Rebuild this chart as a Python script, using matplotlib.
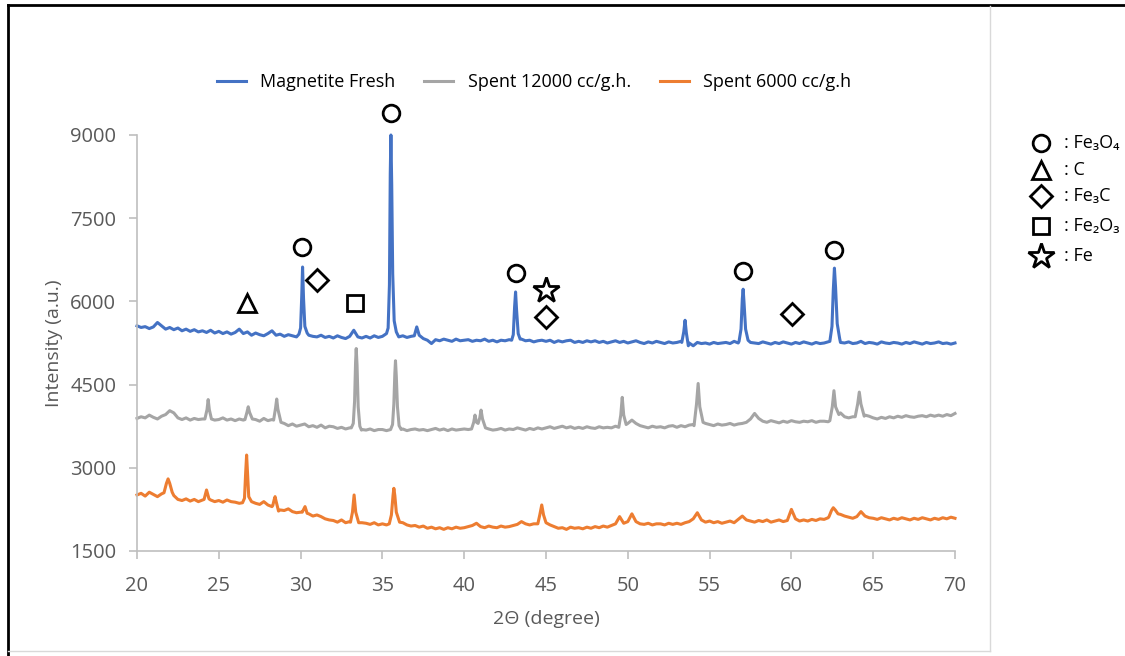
import numpy as np
import matplotlib
matplotlib.use("Agg")
import matplotlib.pyplot as plt
from matplotlib.lines import Line2D

# ---------------- data ----------------
# baseline scan on a 0.25 deg grid, 20 .. 70 deg (201 points per series)
grid_start, grid_step = 20.0, 0.25

blue_grid = [
    5560, 5530, 5545, 5510, 5540, 5620, 5560, 5500, 5530, 5490, 5520, 5470,
    5500, 5460, 5490, 5450, 5470, 5440, 5480, 5430, 5460, 5420, 5450, 5410,
    5440, 5500, 5420, 5450, 5390, 5430, 5400, 5380, 5420, 5470, 5390, 5410,
    5370, 5400, 5380, 5360, 5400, 5600, 5390, 5370, 5360, 5390, 5350, 5370,
    5340, 5380, 5350, 5330, 5370, 5480, 5360, 5340, 5370, 5340, 5380, 5350,
    5370, 5390, 5400, 5400, 5360, 5380, 5350, 5370, 5450, 5420, 5330, 5300,
    5240, 5310, 5290, 5320, 5300, 5280, 5320, 5290, 5300, 5310, 5280, 5300,
    5290, 5320, 5280, 5300, 5270, 5300, 5290, 5310, 5300, 5300, 5320, 5290,
    5300, 5270, 5290, 5300, 5280, 5300, 5260, 5290, 5270, 5290, 5300, 5260,
    5280, 5260, 5290, 5270, 5290, 5260, 5280, 5250, 5270, 5290, 5260, 5280,
    5250, 5270, 5290, 5260, 5240, 5270, 5250, 5280, 5260, 5240, 5270, 5250,
    5260, 5280, 5300, 5250, 5200, 5260, 5240, 5250, 5230, 5260, 5240, 5250,
    5260, 5240, 5280, 5250, 5300, 5300, 5260, 5250, 5240, 5270, 5250, 5230,
    5260, 5240, 5270, 5250, 5230, 5260, 5240, 5270, 5250, 5230, 5260, 5240,
    5250, 5270, 5300, 5300, 5260, 5250, 5270, 5240, 5250, 5280, 5240, 5260,
    5250, 5230, 5270, 5250, 5240, 5260, 5250, 5230, 5260, 5240, 5270, 5250,
    5230, 5260, 5240, 5250, 5270, 5240, 5250, 5230, 5250,
]
gray_grid = [
    3890, 3920, 3900, 3950, 3910, 3880, 3930, 3960, 4030, 3990, 3900, 3870,
    3900, 3860, 3890, 3870, 3880, 3880, 3880, 3860, 3870, 3900, 3860, 3880,
    3850, 3880, 3860, 3890, 3880, 3870, 3840, 3890, 3850, 3870, 3860, 3860,
    3800, 3760, 3790, 3750, 3770, 3790, 3740, 3760, 3730, 3770, 3720, 3750,
    3740, 3710, 3730, 3700, 3720, 3720, 3720, 3690, 3680, 3700, 3670, 3690,
    3690, 3670, 3690, 3690, 3680, 3700, 3670, 3690, 3700, 3680, 3690, 3670,
    3690, 3710, 3680, 3700, 3670, 3700, 3680, 3690, 3700, 3690, 3700, 3700,
    3700, 3750, 3700, 3680, 3690, 3710, 3680, 3700, 3690, 3720, 3700, 3680,
    3710, 3690, 3720, 3700, 3720, 3740, 3710, 3730, 3750, 3720, 3740, 3710,
    3730, 3710, 3740, 3720, 3710, 3740, 3720, 3730, 3720, 3750, 3750, 3750,
    3800, 3860, 3800, 3760, 3740, 3720, 3750, 3730, 3740, 3720, 3750, 3760,
    3730, 3760, 3740, 3770, 3780, 3780, 3780, 3800, 3780, 3760, 3790, 3770,
    3780, 3800, 3770, 3790, 3800, 3820, 3880, 3980, 3890, 3840, 3820, 3850,
    3830, 3810, 3840, 3820, 3850, 3830, 3820, 3840, 3830, 3850, 3820, 3840,
    3840, 3830, 3850, 3850, 3990, 3920, 3900, 3920, 3950, 3950, 3950, 3930,
    3900, 3880, 3910, 3890, 3920, 3900, 3930, 3910, 3940, 3920, 3910, 3930,
    3940, 3920, 3950, 3930, 3950, 3930, 3960, 3940, 3980,
]
orange_grid = [
    2510, 2540, 2490, 2560, 2520, 2480, 2530, 2570, 2600, 2500, 2430, 2410,
    2440, 2400, 2430, 2390, 2420, 2420, 2420, 2390, 2410, 2380, 2420, 2390,
    2380, 2360, 2380, 2380, 2380, 2360, 2340, 2390, 2330, 2300, 2400, 2240,
    2230, 2260, 2210, 2190, 2200, 2250, 2170, 2130, 2150, 2120, 2080, 2060,
    2050, 2020, 2060, 2010, 2030, 2030, 2030, 2010, 2000, 1980, 2010, 1970,
    1990, 1970, 2000, 2000, 2000, 2010, 1970, 1950, 1960, 1930, 1950, 1910,
    1930, 1900, 1920, 1890, 1920, 1900, 1930, 1910, 1920, 1940, 1960, 2000,
    1940, 1920, 1950, 1930, 1920, 1950, 1930, 1940, 1960, 1980, 2030, 1990,
    1970, 1990, 2000, 2000, 2000, 1970, 1940, 1910, 1920, 1890, 1930, 1910,
    1920, 1900, 1930, 1910, 1940, 1920, 1950, 1930, 1960, 1990, 2120, 2000,
    2030, 2170, 2030, 1990, 1980, 2000, 1970, 1990, 1990, 1970, 2000, 1980,
    2000, 1980, 2010, 2030, 2080, 2190, 2060, 2020, 2040, 2010, 2030, 2000,
    2020, 2040, 2010, 2070, 2130, 2060, 2040, 2020, 2050, 2030, 2060, 2020,
    2040, 2060, 2030, 2050, 2250, 2080, 2040, 2060, 2040, 2070, 2050, 2080,
    2070, 2100, 2180, 2200, 2160, 2130, 2110, 2090, 2120, 2210, 2130, 2100,
    2090, 2070, 2100, 2080, 2060, 2090, 2070, 2100, 2080, 2060, 2090, 2070,
    2100, 2080, 2060, 2090, 2070, 2100, 2080, 2110, 2090,
]

# diffraction peaks (2theta, counts) - each inner list is one reflection
blue_peak_2theta = [
    [29.9, 30.0, 30.07, 30.12, 30.18, 30.26, 30.4],
    [35.25, 35.35, 35.43, 35.48, 35.52, 35.57, 35.63, 35.72, 35.85],
    [36.95, 37.1, 37.25],
    [42.9, 43.0, 43.08, 43.14, 43.2, 43.3, 43.42],
    [53.3, 53.42, 53.5, 53.58, 53.7],
    [56.8, 56.92, 57.0, 57.05, 57.1, 57.2, 57.35],
    [62.35, 62.48, 62.56, 62.63, 62.7, 62.8, 62.95],
]
blue_peak_counts = [
    [5410, 5520, 6100, 6620, 6050, 5550, 5430],
    [5420, 5520, 6300, 8300, 9000, 8100, 6500, 5650, 5450],
    [5380, 5540, 5390],
    [5300, 5400, 5900, 6170, 5850, 5420, 5320],
    [5260, 5450, 5660, 5430, 5200],
    [5280, 5500, 6050, 6220, 6000, 5500, 5300],
    [5280, 5550, 6200, 6600, 6250, 5600, 5330],
]
gray_peak_2theta = [
    [24.15, 24.28, 24.35, 24.42, 24.55],
    [26.6, 26.72, 26.8, 26.88, 27.05],
    [28.35, 28.47, 28.54, 28.61, 28.8],
    [33.1, 33.22, 33.3, 33.36, 33.4, 33.45, 33.52, 33.62, 33.72],
    [35.5, 35.62, 35.7, 35.76, 35.8, 35.85, 35.92, 36.02, 36.15],
    [40.45, 40.58, 40.66, 40.75, 40.85, 40.95, 41.03, 41.12, 41.3],
    [49.45, 49.57, 49.66, 49.75, 49.9],
    [54.05, 54.2, 54.3, 54.4, 54.6],
    [62.35, 62.5, 62.6, 62.7, 62.9],
    [63.9, 64.05, 64.15, 64.25, 64.45],
]
gray_peak_counts = [
    [3880, 4050, 4230, 4050, 3880],
    [3870, 4000, 4100, 4000, 3880],
    [3860, 4080, 4240, 4060, 3820],
    [3720, 3800, 4200, 4900, 5150, 4850, 4100, 3750, 3680],
    [3690, 3780, 4150, 4700, 4930, 4650, 4100, 3760, 3690],
    [3700, 3820, 3950, 3820, 3800, 3900, 4040, 3880, 3720],
    [3730, 3950, 4270, 3950, 3780],
    [3760, 4150, 4520, 4100, 3820],
    [3850, 4100, 4390, 4100, 3960],
    [3920, 4150, 4365, 4150, 3930],
]
orange_peak_2theta = [
    [21.65, 21.8, 21.9, 22.0, 22.15],
    [24.1, 24.25, 24.4],
    [26.45, 26.57, 26.64, 26.7, 26.76, 26.83, 27.0],
    [28.3, 28.38, 28.44, 28.5, 28.65],
    [30.1, 30.27, 30.4],
    [33.05, 33.17, 33.27, 33.37, 33.55],
    [35.42, 35.55, 35.65, 35.7, 35.76, 35.85, 36.05],
    [44.5, 44.62, 44.74, 44.85, 45.0],
    [62.3, 62.45, 62.56, 62.68, 62.85],
]
orange_peak_counts = [
    [2550, 2720, 2800, 2720, 2560],
    [2430, 2600, 2440],
    [2370, 2450, 2900, 3230, 2900, 2480, 2390],
    [2320, 2420, 2480, 2400, 2220],
    [2200, 2300, 2180],
    [2020, 2200, 2510, 2200, 2010],
    [1990, 2150, 2500, 2630, 2500, 2200, 2020],
    [1990, 2150, 2330, 2150, 2010],
    [2120, 2230, 2280, 2240, 2170],
]

series_names = ["Magnetite Fresh", "Spent 12000 cc/g.h.", "Spent 6000 cc/g.h"]
series_colors = ["#4472C4", "#A5A5A5", "#ED7D31"]

# phase identification markers (2theta, counts)
phase_labels = [": Fe\u2083O\u2084", ": C", ": Fe\u2083C", ": Fe\u2082O\u2083", ": Fe"]
phase_markers = ["o", "^", "D", "s", "*"]
fe3o4_2theta = [30.08, 35.52, 43.17, 57.04, 62.6]
fe3o4_counts = [6980, 9400, 6510, 6550, 6930]
c_2theta = [26.7]
c_counts = [5970]
fe3c_2theta = [31.0, 45.0, 60.04]
fe3c_counts = [6390, 5720, 5770]
fe2o3_2theta = [33.3]
fe2o3_counts = [5970]
fe_2theta = [45.0]
fe_counts = [6210]

y_ticks = [1500, 3000, 4500, 6000, 7500, 9000]
x_ticks = [20, 25, 30, 35, 40, 45, 50, 55, 60, 65, 70]


def build_pattern(grid_counts, peak_x, peak_y):
    gx = grid_start + grid_step * np.arange(len(grid_counts))
    gy = np.asarray(grid_counts, dtype=float)
    keep = np.ones(len(gx), bool)
    for px in peak_x:
        keep &= ~((gx >= min(px) - 1e-9) & (gx <= max(px) + 1e-9))
    xs = np.concatenate([gx[keep]] + [np.asarray(p, float) for p in peak_x])
    ys = np.concatenate([gy[keep]] + [np.asarray(p, float) for p in peak_y])
    order = np.argsort(xs)
    return xs[order], ys[order]


# ---------------- figure ----------------
plt.rcParams['font.family'] = ['Open Sans', 'DejaVu Sans']
fig = plt.figure(figsize=(11.25, 6.56), dpi=100)
ax = fig.add_axes([137 / 1125, 1 - 551 / 656, (955 - 137) / 1125, (551 - 135) / 656])

patterns = [
    build_pattern(blue_grid, blue_peak_2theta, blue_peak_counts),
    build_pattern(gray_grid, gray_peak_2theta, gray_peak_counts),
    build_pattern(orange_grid, orange_peak_2theta, orange_peak_counts),
]
handles = []
for (xs, ys), name, col in zip(patterns, series_names, series_colors):
    h, = ax.plot(xs, ys, color=col, lw=2.2, label=name, solid_joinstyle='round', clip_on=False)
    handles.append(h)

ax.set_xlim(20, 70)
ax.set_ylim(1500, 9000)
ax.set_xticks(x_ticks)
ax.set_yticks(y_ticks)
for s in ["top", "right"]:
    ax.spines[s].set_visible(False)
for s in ["left", "bottom"]:
    ax.spines[s].set_color("#BFBFBF")
    ax.spines[s].set_linewidth(1.2)
ax.tick_params(axis="both", colors="#BFBFBF", labelcolor="#595959", labelsize=14.5,
               length=6, width=1.2, direction="out")
ax.tick_params(axis="x", pad=12)
ax.tick_params(axis="y", pad=9)
ax.set_xlabel("2\u0398 (degree)", fontsize=14, color="#595959", labelpad=10)
ax.set_ylabel("Intensity (a.u.)", fontsize=14, color="#595959", labelpad=5)

# phase markers on the chart
marker_sets = [
    (fe3o4_2theta, fe3o4_counts, "o", 12),
    (c_2theta, c_counts, "^", 13),
    (fe3c_2theta, fe3c_counts, "D", 11),
    (fe2o3_2theta, fe2o3_counts, "s", 12),
    (fe_2theta, fe_counts, "*", 19),
]
for xs, ys, m, ms in marker_sets:
    ax.plot(xs, ys, ls="none", marker=m, ms=ms, mfc="white", mec="black",
            mew=2.0, clip_on=False, zorder=5)

# series legend at top
fig.legend(handles=handles, labels=series_names, loc="center", ncol=3,
           bbox_to_anchor=(534 / 1125, 1 - 82 / 656), frameon=False,
           fontsize=13, handlelength=1.6, handletextpad=0.8, columnspacing=1.6)

# phase legend on the right
key_y = [143, 170, 196, 226, 256]
key_ms = [12, 13, 11, 12, 19]
for lab, m, yy, ms in zip(phase_labels, phase_markers, key_y, key_ms):
    fig.lines.append(Line2D([1041 / 1125], [1 - yy / 656], transform=fig.transFigure,
                            ls="none", marker=m, ms=ms, mfc="white", mec="black", mew=2.0))
    fig.text(1064 / 1125, 1 - yy / 656, lab, fontsize=13, va="center", ha="left", color="black")

# outer frame decorations
fig.lines.append(Line2D([8 / 1125, 8 / 1125], [0, 1 - 5 / 656], transform=fig.transFigure,
                        color="black", lw=2))
fig.lines.append(Line2D([8 / 1125, 1], [1 - 5 / 656, 1 - 5 / 656], transform=fig.transFigure,
                        color="black", lw=2))
fig.lines.append(Line2D([990 / 1125, 990 / 1125], [1 - 651 / 656, 1 - 6 / 656],
                        transform=fig.transFigure, color="#D9D9D9", lw=1))
fig.lines.append(Line2D([8 / 1125, 990 / 1125], [1 - 651 / 656, 1 - 651 / 656],
                        transform=fig.transFigure, color="#D9D9D9", lw=1))

fig.savefig("out.png", dpi=100)
